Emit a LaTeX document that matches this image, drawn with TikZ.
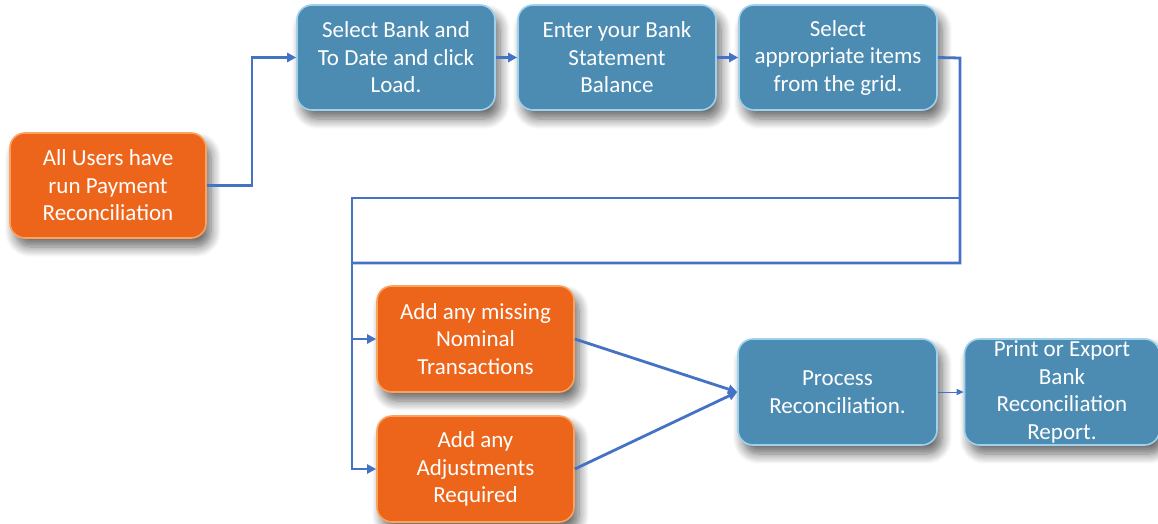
\documentclass[tikz,border=0pt]{standalone}
\usepackage{fontspec}
\setmainfont{Carlito}
\usetikzlibrary{arrows.meta,shadows.blur}
\definecolor{boxblue}{HTML}{4D8CB2}
\definecolor{edgeblue}{HTML}{9FD0EC}
\definecolor{boxorange}{HTML}{EC651A}
\definecolor{edgeorange}{HTML}{F9A35E}
\definecolor{linkblue}{HTML}{4472C4}
\tikzset{
  basebox/.style={rounded corners=15pt, line width=1.6pt, text=white, align=center,
    inner sep=0pt, minimum height=105pt,
    font=\fontsize{23}{27.5}\selectfont,
    blur shadow={shadow xshift=5pt, shadow yshift=-9pt, shadow blur steps=10, shadow blur radius=10pt, shadow opacity=60}},
  bluebox/.style={basebox, fill=boxblue, draw=edgeblue},
  orangebox/.style={basebox, fill=boxorange, draw=edgeorange},
  link/.style={draw=linkblue, line width=2.8pt, -{Triangle[length=9pt,width=9pt]}},
  plainlink/.style={draw=linkblue, line width=2.8pt},
  thinlink/.style={draw=linkblue, line width=1pt, -{Triangle[length=7pt,width=6pt]}}
}
\begin{document}
\begin{tikzpicture}[x=1pt,y=-1pt]
\useasboundingbox (0,0) rectangle (1158,524);
\node[orangebox, minimum width=196pt] (all) at (108,185.5) {All Users have\\run Payment\\Reconciliation};
\node[bluebox, minimum width=198pt] (bank) at (396,57.5) {Select Bank and\\To Date and click\\Load.};
\node[bluebox, minimum width=198pt] (enter) at (617,57.5) {Enter your Bank\\Statement\\Balance};
\node[bluebox, minimum width=198pt] (items) at (838,57.5) {Select\\appropriate items\\from the grid.};
\node[orangebox, minimum width=197pt, minimum height=106pt] (missing) at (475.5,339) {Add any missing\\Nominal\\Transactions};
\node[orangebox, minimum width=197pt, minimum height=106pt] (adjust) at (475.5,469) {Add any\\Adjustments\\Required};
\node[bluebox, minimum width=199pt, minimum height=106pt] (process) at (837.5,392) {Process\\Reconciliation.};
\node[bluebox, minimum width=195pt, minimum height=106pt] (print) at (1062,392) {Print or Export\\Bank\\Reconciliation\\Report.};

\coordinate (rt) at (960,58);
\coordinate (rm) at (960,198);
\coordinate (rb) at (960,263);
\coordinate (lt) at (352,198);
\coordinate (lb) at (352,263);
\coordinate (lm) at (352,339);
\coordinate (ld) at (352,469);

\draw[link] (all.east) -- (252,185.5) |- (bank.west);
\draw[link] (bank.east) -- (enter.west);
\draw[link] (enter.east) -- (items.west);
\draw[plainlink] (items.east) -- (rt) -- (rb) -- (lb);
\draw[plainlink] (rm) -- (lt) -- (lm);
\draw[link] (lt) -- (ld) -- (adjust.west);
\draw[link] (lm) -- (missing.west);
\draw[link] (missing.east) -- (process.west);
\draw[link] (adjust.east) -- (process.west);
\draw[thinlink] (process.east) -- (print.west);
\end{tikzpicture}
\end{document}
